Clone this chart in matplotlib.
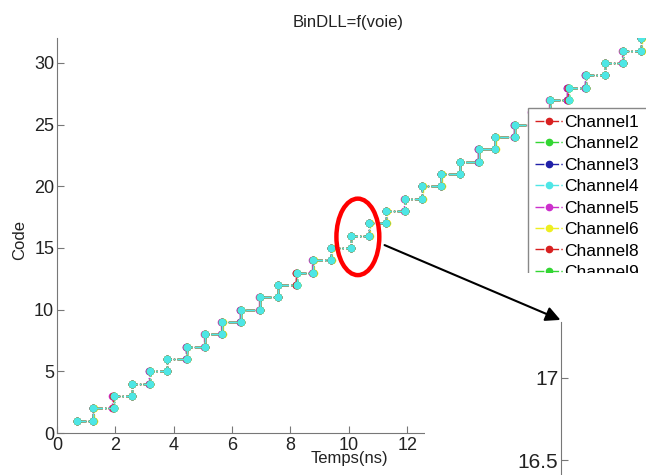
import numpy as np
import matplotlib.pyplot as plt
from matplotlib.patches import Ellipse, Rectangle, FancyArrowPatch

plt.rcParams['font.family'] = ['Liberation Sans', 'DejaVu Sans']

# DLL bin edges (ns) for each code
codes = [1, 2, 3, 4, 5, 6, 7, 8, 9, 10, 11, 12, 13, 14, 15, 16,
         17, 18, 19, 20, 21, 22, 23, 24, 25, 26, 27, 28, 29, 30, 31, 32]

ch1 = [0.68, 1.25, 1.93, 2.57, 3.17, 3.77, 4.44, 5.07, 5.66, 6.29, 6.95, 7.57, 8.20, 8.77, 9.40, 10.08,
       10.70, 11.28, 11.92, 12.52, 13.16, 13.80, 14.45, 15.01, 15.68, 16.28, 16.88, 17.52, 18.12, 18.77, 19.38, 20.02, 20.65]
ch2 = [0.68, 1.25, 1.95, 2.58, 3.17, 3.78, 4.44, 5.07, 5.67, 6.29, 6.95, 7.57, 8.21, 8.78, 9.40, 10.07,
       10.68, 11.28, 11.92, 12.52, 13.16, 13.80, 14.45, 15.02, 15.68, 16.28, 16.88, 17.53, 18.12, 18.77, 19.38, 20.02, 20.65]
ch3 = [0.68, 1.24, 1.94, 2.57, 3.16, 3.77, 4.43, 5.06, 5.67, 6.28, 6.95, 7.56, 8.21, 8.78, 9.39, 10.08,
       10.70, 11.27, 11.92, 12.52, 13.17, 13.80, 14.44, 15.02, 15.67, 16.28, 16.88, 17.49, 18.10, 18.77, 19.38, 20.01, 20.65]
ch4 = [0.68, 1.25, 1.95, 2.57, 3.17, 3.77, 4.44, 5.07, 5.67, 6.29, 6.95, 7.57, 8.21, 8.78, 9.40, 10.08,
       10.70, 11.28, 11.92, 12.52, 13.16, 13.80, 14.45, 15.02, 15.68, 16.28, 16.88, 17.53, 18.12, 18.77, 19.38, 20.02, 20.65]
ch5 = [0.68, 1.23, 1.90, 2.57, 3.15, 3.77, 4.42, 5.05, 5.62, 6.27, 6.93, 7.57, 8.18, 8.74, 9.40, 10.06,
       10.70, 11.26, 11.90, 12.52, 13.16, 13.80, 14.43, 15.00, 15.66, 16.26, 16.86, 17.48, 18.10, 18.77, 19.36, 20.00, 20.63]
ch6 = [0.68, 1.26, 1.96, 2.58, 3.20, 3.78, 4.45, 5.08, 5.68, 6.30, 6.97, 7.58, 8.22, 8.79, 9.41, 10.09,
       10.72, 11.30, 11.93, 12.53, 13.18, 13.81, 14.46, 15.03, 15.69, 16.29, 16.90, 17.54, 18.13, 18.78, 19.39, 20.03, 20.66]
ch8 = [0.68, 1.25, 1.92, 2.57, 3.17, 3.77, 4.44, 5.07, 5.65, 6.29, 6.95, 7.57, 8.20, 8.76, 9.40, 10.08,
       10.70, 11.28, 11.92, 12.52, 13.16, 13.80, 14.45, 15.01, 15.68, 16.28, 16.88, 17.51, 18.12, 18.77, 19.38, 20.02, 20.65]
ch9 = [0.68, 1.25, 1.95, 2.57, 3.17, 3.77, 4.44, 5.07, 5.67, 6.29, 6.95, 7.57, 8.21, 8.78, 9.40, 10.07,
       10.68, 11.28, 11.92, 12.52, 13.16, 13.80, 14.45, 15.02, 15.68, 16.28, 16.88, 17.53, 18.12, 18.77, 19.38, 20.02, 20.65]

channels = [ch1, ch2, ch3, ch4, ch5, ch6, ch8, ch9]
names = ['Channel1', 'Channel2', 'Channel3', 'Channel4', 'Channel5', 'Channel6', 'Channel8', 'Channel9']
colors = ['#d82020', '#33d633', '#2020a8', '#4ee6e6', '#cc30cc', '#eeee20', '#d82020', '#33d633']

fig = plt.figure(figsize=(6.46, 4.75), dpi=100)
ax = fig.add_axes([57 / 646, 42 / 475, 642 / 646, 394.7 / 475])

for edges, name, col in zip(channels, names, colors):
    # staircase: each code has a point at both ends of its bin
    x = np.repeat(edges, 2)[1:-1]
    y = np.repeat(codes, 2)
    z = 3 if name == 'Channel4' else 2
    ax.plot(x, y, '-.o', color=col, lw=1, ms=4.5, mec=col, label=name, zorder=z)

ax.set_xlim(0, 22)
ax.set_ylim(0, 32)
ax.set_xticks([0, 2, 4, 6, 8, 10, 12])
ax.set_yticks([0, 5, 10, 15, 20, 25, 30])
ax.tick_params(direction='in', length=5, width=0.8, labelsize=13, pad=2,
               color='#777777', labelcolor='#222222')
ax.tick_params(axis='x', pad=3)
for s in ['top', 'right']:
    ax.spines[s].set_visible(False)
for s in ['left', 'bottom']:
    ax.spines[s].set_color('#777777')

ax.set_title('BinDLL=f(voie)', fontsize=12, color='#222222', x=0.453, pad=8)
ax.set_xlabel('Temps(ns)', fontsize=12, color='#222222')
ax.xaxis.set_label_coords(0.455, -0.045)
ax.set_ylabel('Code', fontsize=12, color='#222222')
ax.yaxis.set_label_coords(-0.047, 0.49)

# legend box runs past the right edge of the picture
leg_top = 1 - 108 / 475
leg = ax.legend(loc='upper left', bbox_to_anchor=(528 / 646, leg_top - 0.4, 0.2, 0.4),
                bbox_transform=fig.transFigure, mode='expand', fontsize=12.5, frameon=True,
                fancybox=False, borderpad=0.4, labelspacing=0.36,
                handlelength=1.6, handletextpad=0.1, borderaxespad=0)
leg.get_frame().set_edgecolor('#888888')
leg.get_frame().set_linewidth(1)
leg.get_frame().set_alpha(1)

# red ellipse around the zoomed step
ax.add_patch(Ellipse((10.31, 15.9), 1.47, 6.2, fill=False, ec='#ff0000', lw=3.2, zorder=5))

# white area pasted over the lower right corner
fig.add_artist(Rectangle((425 / 646, 0), 1 - 425 / 646, (475 - 273) / 475,
                         transform=fig.transFigure, fc='white', ec='none', zorder=1))

# zoomed axis
ax2 = fig.add_axes([561 / 646, 0, 0.2, 153 / 475], zorder=2)
ax2.set_facecolor('white')
ax2.set_ylim(16.41, 17.34)
ax2.set_xlim(0, 1)
ax2.set_yticks([16.5, 17])
ax2.set_yticklabels(['16.5', '17'])
ax2.set_xticks([])
ax2.tick_params(direction='in', length=5, width=0.8, labelsize=15, pad=2,
                color='#777777', labelcolor='#222222')
for s in ['top', 'right', 'bottom']:
    ax2.spines[s].set_visible(False)
ax2.spines['left'].set_color('#777777')

arrow = FancyArrowPatch((382 / 646, 1 - 244 / 475), (563 / 646, 1 - 321 / 475),
                        transform=fig.transFigure, arrowstyle='-|>', mutation_scale=22,
                        lw=1.5, color='black', zorder=4)
fig.add_artist(arrow)

fig.savefig('out.png', dpi=100)
